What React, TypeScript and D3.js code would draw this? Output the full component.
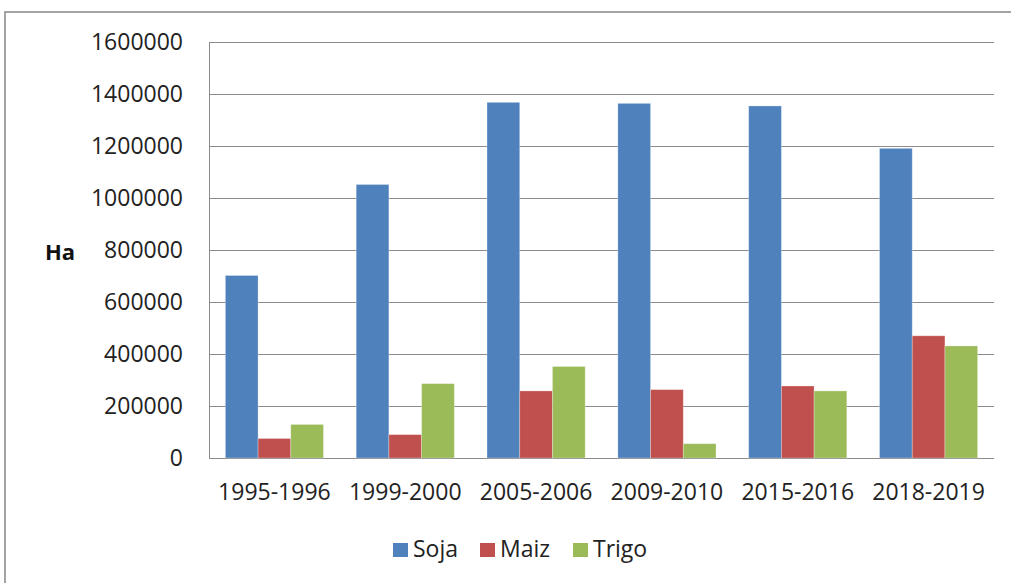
import React from "react";
import * as d3 from "d3";

const categories = ["1995-1996", "1999-2000", "2005-2006", "2009-2010", "2015-2016", "2018-2019"];
const seriesNames = ["Soja", "Maiz", "Trigo"];
const soja = [702000, 1052000, 1368000, 1364000, 1354000, 1191000];
const maiz = [75000, 90000, 258000, 263000, 277000, 470000];
const trigo = [129000, 286000, 352000, 55000, 258000, 431000];
const yTicks = [0, 200000, 400000, 600000, 800000, 1000000, 1200000, 1400000, 1600000];
const colors = ["#4F81BD", "#C0504D", "#9BBB59"];

const W = 1011;
const H = 583;
const FONT = "'Open Sans', sans-serif";

export default function App() {
  const left = 209;
  const right = 994;
  const top = 42;
  const bottom = 458;
  const x = d3.scaleBand<string>().domain(categories).range([left, right]).paddingInner(0).paddingOuter(0);
  const inner = d3.scaleBand<string>().domain(seriesNames).range([0, x.bandwidth()]).paddingInner(0).paddingOuter(0.5);
  const y = d3.scaleLinear().domain([0, 1600000]).range([bottom, top]);
  const values = [soja, maiz, trigo];

  const legendItems = [
    { name: "Soja", sx: 393, tx: 413 },
    { name: "Maiz", sx: 480, tx: 500 },
    { name: "Trigo", sx: 573, tx: 593 },
  ];

  return (
    <svg width={W} height={H} style={{ position: "absolute", left: 0, top: 0 }} fontFamily={FONT}>
      <rect x={0} y={0} width={W} height={H} fill="#fff" />
      <rect x={5} y={12} width={W + 20} height={H + 20} fill="none" stroke="#868686" strokeWidth={1.5} />
      {yTicks.map((t) => (
        <line key={"g" + t} x1={left} x2={right} y1={Math.round(y(t)) + 0.5} y2={Math.round(y(t)) + 0.5} stroke="#8c8c8c" strokeWidth={1} />
      ))}
      <line x1={left + 0.5} x2={left + 0.5} y1={top} y2={bottom + 0.5} stroke="#8c8c8c" strokeWidth={1} />
      {categories.map((c, i) =>
        seriesNames.map((s, j) => {
          const v = values[j][i];
          const bx = (x(c) as number) + (inner(s) as number);
          return (
            <rect
              key={c + s}
              x={bx}
              y={y(v)}
              width={inner.bandwidth()}
              height={y(0) - y(v)}
              fill={colors[j]}
              stroke="#ffffff"
              strokeOpacity={0.35}
              strokeWidth={0.8}
            />
          );
        })
      )}
      {yTicks.map((t) => (
        <text key={"t" + t} x={183} y={y(t) + 8} textAnchor="end" fontSize={23} fill="#222">
          {t}
        </text>
      ))}
      {categories.map((c) => (
        <text key={"c" + c} x={(x(c) as number) + x.bandwidth() / 2} y={500} textAnchor="middle" fontSize={23} fill="#222">
          {c}
        </text>
      ))}
      <text x={45} y={260} fontSize={22} fontWeight="bold" fill="#111">Ha</text>
      {legendItems.map((l, i) => (
        <g key={l.name}>
          <rect x={l.sx} y={543} width={15} height={14} fill={colors[i]} />
          <text x={l.tx} y={557} fontSize={23} fill="#222">{l.name}</text>
        </g>
      ))}
    </svg>
  );
}
